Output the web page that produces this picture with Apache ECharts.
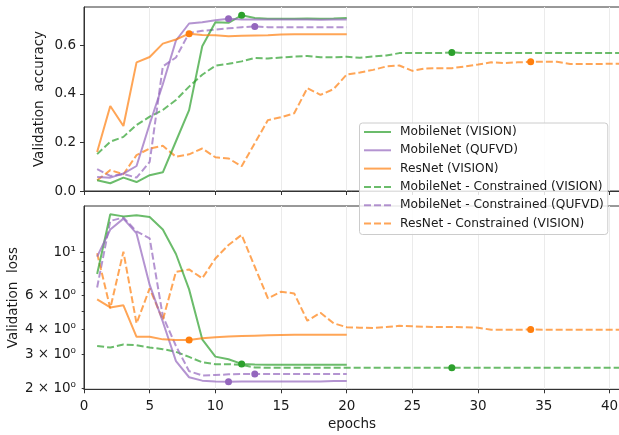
<!DOCTYPE html>
<html>
<head>
    <meta charset="utf-8">
    <title>Validation curves</title>
    <script src="https://cdn.jsdelivr.net/npm/echarts@6/dist/echarts.min.js"></script>
    <style>
        html, body { margin: 0; padding: 0; background: #fff; }
        #main { width: 619px; height: 435px; }
    </style>
</head>
<body>
<div id="main"></div>
<script>
    // series names, in legend order
    var names = ['MobileNet (VISION)', 'MobileNet (QUFVD)', 'ResNet (VISION)',
        'MobileNet - Constrained (VISION)', 'MobileNet - Constrained (QUFVD)', 'ResNet - Constrained (VISION)'];

    // validation accuracy, epoch 1..n
    var mobVisionAcc = [0.044, 0.032, 0.055, 0.037, 0.065, 0.077, 0.205, 0.333, 0.596, 0.695,
        0.693, 0.724, 0.713, 0.710, 0.710, 0.710, 0.711, 0.710, 0.711, 0.713];
    var mobQufvdAcc = [0.058, 0.055, 0.072, 0.103, 0.276, 0.44, 0.62, 0.69, 0.695, 0.703,
        0.710, 0.707, 0.706, 0.706, 0.706, 0.706, 0.706, 0.705, 0.706, 0.706];
    var resVisionAcc = [0.161, 0.350, 0.268, 0.530, 0.552, 0.607, 0.624, 0.648, 0.643, 0.642,
        0.638, 0.640, 0.641, 0.642, 0.645, 0.646, 0.646, 0.646, 0.646, 0.646];
    var mobVisionConAcc = [0.152, 0.203, 0.223, 0.272, 0.306, 0.334, 0.375, 0.430, 0.479, 0.516,
        0.524, 0.534, 0.548, 0.546, 0.550, 0.554, 0.556, 0.551, 0.551, 0.553,
        0.549, 0.554, 0.558, 0.568, 0.568, 0.568, 0.568, 0.571, 0.568, 0.568,
        0.568, 0.568, 0.568, 0.568, 0.568, 0.568, 0.568, 0.568, 0.568, 0.568, 0.568];
    var mobQufvdConAcc = [0.090, 0.062, 0.070, 0.055, 0.120, 0.513, 0.550, 0.651, 0.660, 0.665,
        0.670, 0.675, 0.678, 0.675, 0.675, 0.675, 0.675, 0.675, 0.675, 0.675];
    var resVisionConAcc = [0.044, 0.086, 0.069, 0.148, 0.175, 0.186, 0.141, 0.151, 0.175, 0.139,
        0.134, 0.102, 0.197, 0.292, 0.304, 0.320, 0.424, 0.396, 0.420, 0.480,
        0.488, 0.499, 0.513, 0.517, 0.495, 0.505, 0.506, 0.506, 0.513, 0.521,
        0.530, 0.527, 0.530, 0.532, 0.533, 0.532, 0.523, 0.523, 0.523, 0.524, 0.524];

    // validation loss, epoch 1..n
    var mobVisionLoss = [7.73, 15.7, 15.3, 15.5, 15.2, 13.1, 9.8, 6.45, 3.57, 2.91,
        2.82, 2.67, 2.65, 2.64, 2.64, 2.64, 2.64, 2.64, 2.64, 2.64];
    var mobQufvdLoss = [9.5, 13.1, 14.9, 12.5, 6.8, 4.4, 2.76, 2.28, 2.19, 2.17,
        2.16, 2.17, 2.17, 2.17, 2.17, 2.17, 2.17, 2.17, 2.18, 2.18];
    var resVisionLoss = [5.73, 5.21, 5.34, 3.68, 3.68, 3.57, 3.54, 3.54, 3.62, 3.66,
        3.69, 3.71, 3.73, 3.75, 3.76, 3.77, 3.77, 3.77, 3.77, 3.77];
    var mobVisionConLoss = [3.30, 3.24, 3.36, 3.33, 3.24, 3.18, 3.08, 2.90, 2.72, 2.66,
        2.66, 2.64, 2.56, 2.55, 2.55, 2.55, 2.55, 2.55, 2.55, 2.55,
        2.55, 2.55, 2.55, 2.55, 2.55, 2.55, 2.55, 2.55, 2.55, 2.55,
        2.55, 2.55, 2.55, 2.55, 2.55, 2.55, 2.55, 2.55, 2.55, 2.55, 2.55];
    var mobQufvdConLoss = [6.6, 14.5, 15.1, 12.8, 11.8, 4.7, 3.3, 2.45, 2.33, 2.34,
        2.36, 2.37, 2.37, 2.37, 2.37, 2.37, 2.37, 2.37, 2.37, 2.37];
    var resVisionConLoss = [9.88, 5.15, 10.07, 4.31, 6.53, 4.49, 7.94, 8.17, 7.35, 9.3,
        10.9, 12.3, 8.43, 5.80, 6.27, 6.15, 4.45, 4.89, 4.32, 4.12,
        4.10, 4.08, 4.13, 4.19, 4.17, 4.14, 4.13, 4.13, 4.12, 4.10,
        4.00, 4.00, 4.00, 4.01, 4.00, 4.00, 4.00, 4.00, 4.00, 4.00, 4.00];

    // epoch with best model (dot)
    var bestEpoch = [12, 11, 8, 28, 13, 34];

    // axis ticks
    var epochTicks = [0, 5, 10, 15, 20, 25, 30, 35, 40];
    var accTicks = [0, 0.2, 0.4, 0.6];
    var lossLabelTicks = [2, 3, 4, 6, 10];
    var lossMinorTicks = [2, 3, 4, 5, 6, 7, 8, 9];

    var colors = ['#2ca02c', '#9467bd', '#ff7f0e', '#2ca02c', '#9467bd', '#ff7f0e'];
    var dashed = [false, false, false, true, true, true];
    var accData = [mobVisionAcc, mobQufvdAcc, resVisionAcc, mobVisionConAcc, mobQufvdConAcc, resVisionConAcc];
    var lossData = [mobVisionLoss, mobQufvdLoss, resVisionLoss, mobVisionConLoss, mobQufvdConLoss, resVisionConLoss];

    var font = 'DejaVu Sans';
    var txt = '#1a1a1a';
    var spine = '#333';

    var chart = echarts.init(byId('main'), null, {renderer: 'canvas'});

    function makeSeries (i, values, gridIdx) {
        var pts = [];
        for (var k = 0; k < values.length; k++) {
            var ep = k + 1;
            if (ep == bestEpoch[i]) {
                pts.push({value: [ep, values[k]], symbol: 'circle', symbolSize: 7});
            } else {
                pts.push([ep, values[k]]);
            }
        }
        return {
            name: names[i],
            type: 'line',
            xAxisIndex: gridIdx,
            yAxisIndex: gridIdx,
            data: pts,
            symbol: 'none',
            showSymbol: true,
            animation: false,
            z: dashed[i] ? 2 : 3,
            itemStyle: {color: colors[i], opacity: 1},
            lineStyle: {
                color: colors[i],
                width: 2,
                opacity: 0.7,
                type: dashed[i] ? [7, 3] : 'solid'
            },
            emphasis: {disabled: true}
        };
    }

    var series = [];
    for (var i = 0; i < names.length; i++) series.push(makeSeries(i, accData[i], 0));
    for (var j = 0; j < names.length; j++) series.push(makeSeries(j, lossData[j], 1));

    function xAxis (gridIdx, withLabels) {
        return {
            type: 'value',
            gridIndex: gridIdx,
            min: 0,
            max: 40.8,
            axisLine: {show: true, onZero: false, lineStyle: {color: spine, width: 1}},
            axisTick: {show: true, length: 4, customValues: epochTicks, lineStyle: {color: spine}},
            axisLabel: {
                show: withLabels, customValues: epochTicks, margin: 10.5,
                color: txt, fontFamily: font, fontSize: 13.5
            },
            splitLine: {show: true, lineStyle: {color: '#ebebeb', width: 1}},
            name: withLabels ? 'epochs' : '',
            nameLocation: 'middle',
            nameGap: 28,
            nameMoveOverlap: false,
            nameTextStyle: {color: txt, fontFamily: font, fontSize: 13.5}
        };
    }

    var superDigits = {'0': '\u2070', '1': '\u00b9'};

    chart.setOption({
        backgroundColor: '#fff',
        animation: false,
        grid: [
            {left: 84, right: -1, top: 7, height: 184, show: true, borderColor: spine, borderWidth: 1,
                outerBoundsMode: 'none'},
            {left: 84, right: -1, top: 206, height: 183.3, show: true, borderColor: spine, borderWidth: 1,
                outerBoundsMode: 'none'}
        ],
        legend: {
            data: names,
            orient: 'vertical',
            left: 359.5,
            top: 123,
            padding: [3, 4, 5, 3.5],
            itemWidth: 27,
            itemHeight: 14,
            itemGap: 6.3,
            backgroundColor: 'rgba(255,255,255,0.85)',
            borderColor: '#cccccc',
            borderWidth: 1,
            borderRadius: 3,
            selectedMode: false,
            itemStyle: {opacity: 0},
            textStyle: {color: txt, fontFamily: font, fontSize: 12.2, padding: [0, 0, 0, 4]}
        },
        xAxis: [xAxis(0, false), xAxis(1, true)],
        yAxis: [
            {
                type: 'value',
                gridIndex: 0,
                min: 0,
                max: 0.758,
                axisLine: {show: true, lineStyle: {color: spine}},
                axisTick: {show: true, length: 4, customValues: accTicks, lineStyle: {color: spine}},
                axisLabel: {
                    customValues: accTicks, margin: 8, color: txt, fontFamily: font, fontSize: 13.5,
                    formatter: function (v) { return v.toFixed(1); }
                },
                splitLine: {show: false},
                name: 'Validation  accuracy',
                nameLocation: 'middle',
                nameGap: 37.5,
                nameMoveOverlap: false,
                nameTextStyle: {color: txt, fontFamily: font, fontSize: 13.5}
            },
            {
                type: 'log',
                logBase: 10,
                gridIndex: 1,
                min: 1.977,
                max: 17.3,
                axisLine: {show: true, lineStyle: {color: spine}},
                axisTick: {show: true, length: 4, customValues: [10], lineStyle: {color: spine}},
                axisLabel: {
                    customValues: lossLabelTicks, margin: 8, color: txt, fontFamily: font, fontSize: 13.5,
                    formatter: function (v) {
                        var r = Math.round(v);
                        if (r == 10) return '10' + superDigits['1'];
                        return r + ' \u00d7 10' + superDigits['0'];
                    }
                },
                splitLine: {show: false},
                name: 'Validation  loss',
                nameLocation: 'middle',
                nameGap: 63.5,
                nameMoveOverlap: false,
                nameTextStyle: {color: txt, fontFamily: font, fontSize: 13.5}
            },
            {
                // minor ticks of the log axis
                type: 'log',
                logBase: 10,
                gridIndex: 1,
                min: 1.977,
                max: 17.3,
                position: 'left',
                axisLine: {show: false},
                axisTick: {show: true, length: 2.3, customValues: lossMinorTicks, lineStyle: {color: spine}},
                axisLabel: {show: false},
                splitLine: {show: false}
            }
        ],
        series: series
    });

    function byId (id) {
        return document.getElementById(id);
    }
</script>
</body>
</html>
